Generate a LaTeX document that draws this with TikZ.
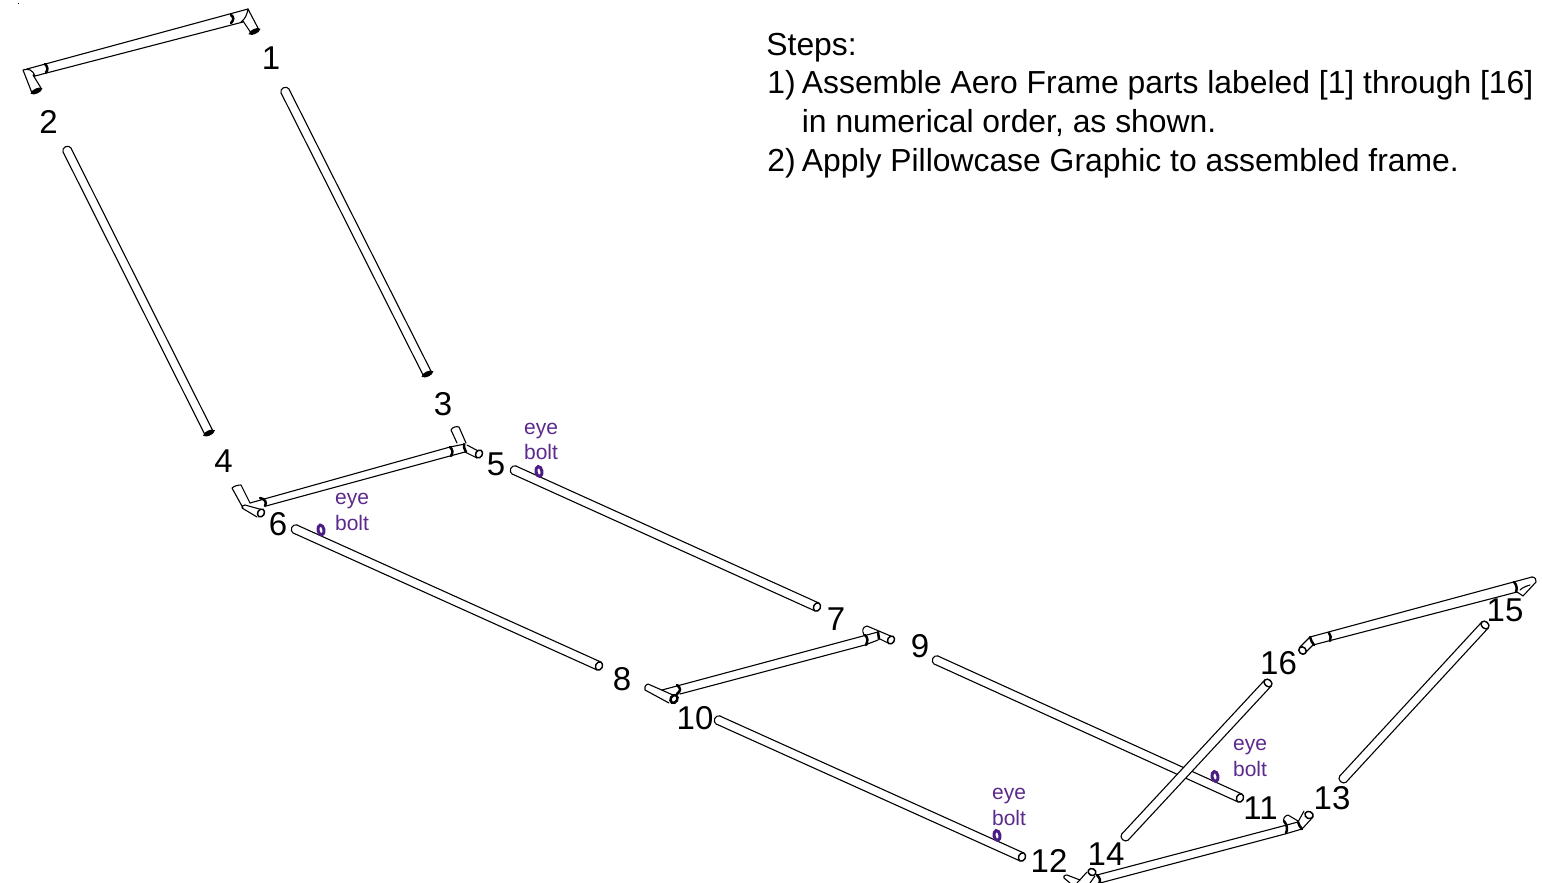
\documentclass[tikz,border=0pt]{standalone}
\usepackage{fontspec}
\setmainfont{Liberation Sans}
\definecolor{boltc}{HTML}{5B2A8C}
\definecolor{boltd}{HTML}{4C1D85}
\newcommand{\rodm}[5][3.4]{%
  \pgfmathsetmacro\rdx{#4-#2}\pgfmathsetmacro\rdy{#5-#3}%
  \pgfmathsetmacro\rlen{veclen(\rdx,\rdy)}%
  \pgfmathsetmacro\rnx{-\rdy/\rlen*4.4}\pgfmathsetmacro\rny{\rdx/\rlen*4.4}%
  \pgfmathsetmacro\rang{atan2(-\rdy,\rdx)}%
  \draw[tube,fill=white,rotate around={\rang:(#2,#3)}] (#2,#3) ellipse [x radius=3.6,y radius=4.4];
  \fill[white] (#2+\rnx,#3+\rny) -- (#4+\rnx,#5+\rny) -- (#4-\rnx,#5-\rny) -- (#2-\rnx,#3-\rny) -- cycle;
  \draw[tube] (#2+\rnx,#3+\rny) -- (#4+\rnx,#5+\rny) (#2-\rnx,#3-\rny) -- (#4-\rnx,#5-\rny);
  \draw[tube,line width=0.7pt,fill=white,rotate around={\rang:(#4,#5)}] (#4,#5) ellipse [x radius=#1,y radius=4.4];
}
\newcommand{\boltm}[2]{\draw[boltd,line width=1.5pt,rotate around={-80:(#1,#2)}] (#1,#2) ellipse [x radius=5,y radius=3];}
\newcommand{\capm}[2]{\draw[ring,fill=white,rotate around={25:(#1,#2)}] (#1,#2) ellipse [x radius=4.4,y radius=1.3];}
\tikzset{
  x=0.5pt,y=-0.5pt,
  tube/.style={line width=0.55pt,black,line cap=round,line join=round},
  ring/.style={line width=1.25pt,black,line cap=round},
  fat/.style={tube,fill=white},
  num/.style={font=\fontsize{16.5}{18}\selectfont,inner sep=0pt},
  steps/.style={font=\fontsize{15.93}{18}\selectfont,inner sep=0pt,anchor=base west},
  bolt/.style={font=\fontsize{10.5}{12}\selectfont,text=boltc,inner sep=0pt},
  endcap/.style={tube,line width=0.75pt,fill=white}
}
\begin{document}
\begin{tikzpicture}
\useasboundingbox (0,0) rectangle (1542,883);
\clip (0,0) rectangle (1542,883);
\fill[white] (0,0) rectangle (1542,883);
\fill[black] (17.5,3.5) rectangle (19,4.5);

% --- assembly 1-2
\draw[tube] (23,70) .. controls (28,68) and (33,70) .. (35,76) (23,70) -- (32,93) (33,75) -- (41,88);
\draw[tube] (27,69) -- (248,9) (35,76) -- (243,22);
\draw[tube] (248,9) .. controls (247,15) and (245,19) .. (241,22) (243,21) -- (251,33) (248,9) -- (259,30);
\capm{36.5}{91}\capm{254.5}{31.5}
\draw[ring] (45,64) .. controls (48,67) and (48,70) .. (46,72.5);
\draw[ring] (231,15) .. controls (234,17) and (234,20) .. (231,23);

% --- long rods
\rodm[1.6]{285}{91}{427.5}{374}\capm{427.5}{374}
\rodm[1.6]{67}{150}{209}{433}\capm{209}{433}
\rodm{514}{470}{817}{607}
\rodm{295}{529}{599}{666}
\rodm{718}{720}{1022}{857}
\rodm{936}{660}{1240}{798}
\rodm{1125}{837}{1268}{683}
\rodm{1343}{779}{1485}{625}

% --- assembly 3-4-5
\draw[tube] (250,503) -- (450,447) -- (465,444) (266,506) -- (450,456) -- (465,452);
\draw[fat] (457,443) -- (451,430) .. controls (452,427) and (457,426) .. (459,427) -- (466,443);
\draw[fat] (467,445) -- (480,452) (465,452) -- (477,458);
\draw[endcap,rotate around={60:(479,454)}] (479,454) ellipse [x radius=4.2,y radius=3.3];
\draw[ring] (450,447) .. controls (453,450) and (453,453) .. (451,456);
\draw[ring] (464,444) .. controls (464,447) and (464,449) .. (466,452);
\draw[fat] (243,508) -- (232,488) .. controls (234,486) and (238,485) .. (241,485) -- (250,503);
\draw[tube] (245,505) -- (263,510) (242,508) -- (257,517) (245,505) .. controls (243,505) and (242,506) .. (242,508);
\draw[endcap,rotate around={60:(261,513)}] (261,513) ellipse [x radius=4.2,y radius=3.3];
\draw[ring] (260,498) .. controls (265,499) and (267,502) .. (265,506);

% --- assembly 7-8-9-10
\draw[tube] (662,690) -- (863,636) -- (878,632) (680,694) -- (865,645) -- (878,640);
\draw[tube] (867,626) -- (893,637) (880,639) -- (888,643) (867,626) .. controls (862,627) and (862,631) .. (864,635);
\draw[endcap,rotate around={60:(891,640)}] (891,640) ellipse [x radius=4.2,y radius=3.3];
\draw[ring] (865,635) .. controls (868,638) and (868,641) .. (866,645);
\draw[ring] (878,632) -- (879,639);
\draw[tube] (648,684) -- (673,695) (645,690) -- (669,703) (648,684) .. controls (645,685) and (644,688) .. (645,690);
\draw[ring] (677,685) .. controls (681,688) and (681,691) .. (677,694);
\draw[ring,fill=white,rotate around={60:(674,699)}] (674,699) ellipse [x radius=4.2,y radius=3.3];

% --- assembly 11-12-13-14
\draw[tube] (1097,875) -- (1283,826) -- (1298,822) (1100,883) -- (1285,834) -- (1302,829);
\draw[tube] (1298,822) -- (1304,811) (1302,829) -- (1313,817);
\draw[endcap,rotate around={-25:(1309,815)}] (1309,815) ellipse [x radius=4.2,y radius=3.5];
\draw[ring] (1298,822) .. controls (1299,825) and (1300,827) .. (1302,829);
\draw[tube] (1288,815) -- (1298,821) (1288,815) .. controls (1284,816) and (1283,819) .. (1284,822);
\draw[ring] (1284,821) .. controls (1287,825) and (1288,829) .. (1286,833);
\draw[tube] (1067,875) -- (1080,880) (1067,875) .. controls (1064,875) and (1063,877) .. (1064,878) -- (1070,883);
\draw[tube] (1087,872) -- (1077,883) (1095,876) -- (1090,883);
\draw[endcap,rotate around={-25:(1092,872)}] (1092,872) ellipse [x radius=4,y radius=3.4];
\draw[ring] (1097,875) .. controls (1100,878) and (1101,881) .. (1099,884);

% --- assembly 15-16
\draw[tube] (1310,637) -- (1532,577) (1313,645) -- (1517,592);
\draw[tube] (1532,577) .. controls (1535,577) and (1537,580) .. (1536,582) -- (1523,596) -- (1517,592);
\draw[tube] (1310,637) -- (1300,647) (1313,645) -- (1305,653);
\draw[endcap,rotate around={-45:(1302.5,650.5)}] (1302.5,650.5) ellipse [x radius=4,y radius=3.4];
\draw[ring] (1310,637) .. controls (1311,640) and (1312,643) .. (1314,645);
\draw[ring] (1329,633) .. controls (1331,635) and (1331,638) .. (1330,641);
\draw[ring] (1514,582) .. controls (1517,585) and (1517,589) .. (1516,592);
\draw[tube] (1520,590) .. controls (1523,587) and (1527,586) .. (1530,585);

% --- eye bolts
\boltm{539}{471.5}\boltm{321}{530}\boltm{997}{835.5}\boltm{1215}{776.5}

% --- numbers
\node[num] (n1) at (271,58) {1};
\node[num] (n2) at (48.5,122) {2};
\node[num] (n3) at (443,404) {3};
\node[num] (n4) at (223.5,461) {4};
\node[num] (n5) at (496,464) {5};
\node[num] (n6) at (278,524.5) {6};
\node[num] (n7) at (836,619) {7};
\node[num] (n8) at (622,679) {8};
\node[num] (n9) at (920,646) {9};
\node[num] (n10) at (695,718) {10};
\node[num] (n11) at (1260.5,808) {11};
\node[num] (n12) at (1049,861) {12};
\node[num] (n13) at (1332,798) {13};
\node[num] (n14) at (1106,854) {14};
\node[num] (n15) at (1505,610) {15};
\node[num] (n16) at (1278.5,663) {16};

% --- eye bolt labels
\node[bolt] (ea1) at (541,431) {eye};
\node[bolt] (eb1) at (541,452) {bolt};
\node[bolt] (ea2) at (352,501) {eye};
\node[bolt] (eb2) at (352,523) {bolt};
\node[bolt] (ea3) at (1009,796) {eye};
\node[bolt] (eb3) at (1009,818) {bolt};
\node[bolt] (ea4) at (1250,747) {eye};
\node[bolt] (eb4) at (1250,769) {bolt};

% --- steps
\node[steps] (s0) at (766,56) {Steps:};
\node[steps] (s1) at (767,94) {1)};
\node[steps] (s1t) at (801.5,94) {Assemble Aero Frame parts labeled [1] through [16]};
\node[steps] (s1u) at (801.5,133) {in numerical order, as shown.};
\node[steps] (s2) at (767,171) {2)};
\node[steps] (s2t) at (801.5,171) {Apply Pillowcase Graphic to assembled frame.};
\end{tikzpicture}
\end{document}
